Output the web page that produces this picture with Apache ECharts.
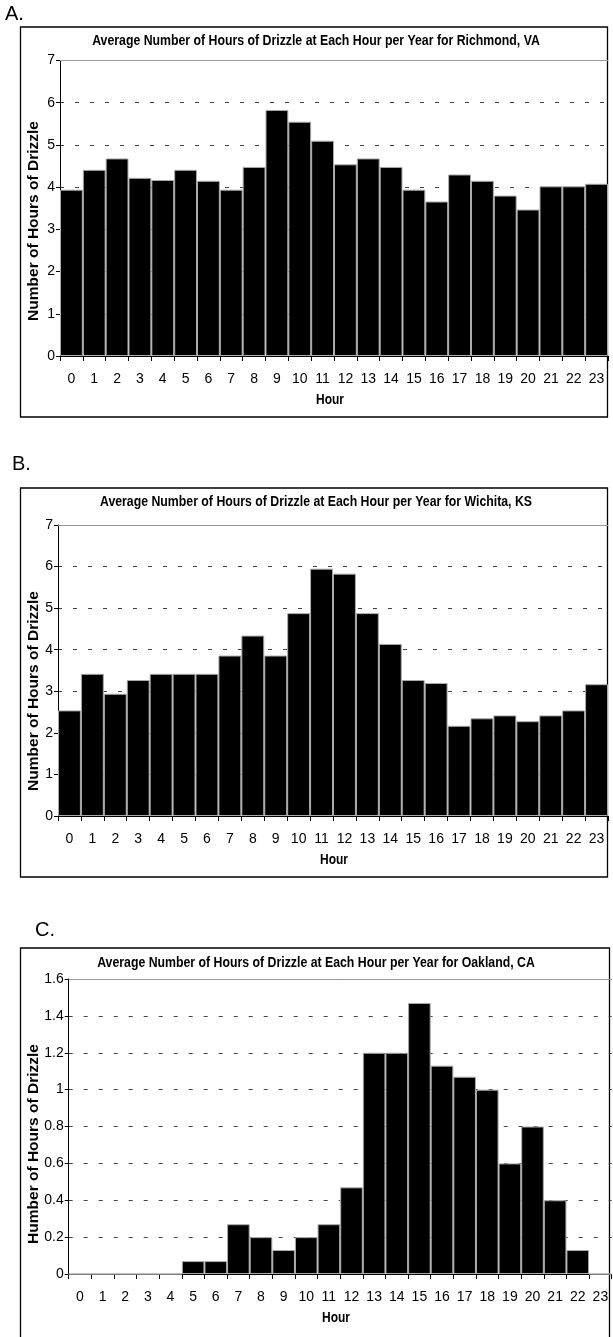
<!DOCTYPE html>
<html>
<head>
<meta charset="utf-8">
<script src="https://cdn.jsdelivr.net/npm/echarts@6/dist/echarts.min.js"></script>
<style>
  html, body { margin: 0; padding: 0; background: #fff; }
  #chart { width: 613px; height: 1337px; }
</style>
</head>
<body>
<div id="chart"></div>
<script>
// hours of the day (category axis)
const hours = ['0', '1', '2', '3', '4', '5', '6', '7', '8', '9', '10', '11',
  '12', '13', '14', '15', '16', '17', '18', '19', '20', '21', '22', '23'];

// average hours of drizzle per year at each hour
const richmond = [3.94, 4.41, 4.68, 4.22, 4.17, 4.41, 4.15, 3.94, 4.48, 5.83, 5.55, 5.10,
  4.54, 4.68, 4.48, 3.94, 3.66, 4.30, 4.15, 3.80, 3.47, 4.02, 4.02, 4.08];
const wichita = [2.54, 3.42, 2.94, 3.27, 3.42, 3.42, 3.42, 3.86, 4.34, 3.86, 4.88, 5.95,
  5.83, 4.88, 4.14, 3.27, 3.20, 2.17, 2.35, 2.42, 2.28, 2.42, 2.54, 3.17];
const oakland = [0, 0, 0, 0, 0, 0.07, 0.07, 0.27, 0.20, 0.13, 0.20, 0.27,
  0.47, 1.20, 1.20, 1.47, 1.13, 1.07, 1.00, 0.60, 0.80, 0.40, 0.13, 0];

const titles = [
  'Average Number of Hours of Drizzle at Each Hour per Year for Richmond, VA',
  'Average Number of Hours of Drizzle at Each Hour per Year for Wichita, KS',
  'Average Number of Hours of Drizzle at Each Hour per Year for Oakland, CA'
];
const yNames = ['Number of Hours of Drizzle', 'Number of Hours of Drizzle', 'Humber of Hours of Drizzle'];
const panelLetters = ['A.', 'B.', 'C.'];
const yMax = [7, 7, 1.6];
const yStep = [1, 1, 0.2];

const chart = echarts.init(document.getElementById('chart'));

const grids = [
  { left: 60, top: 60.5, width: 548, height: 295.5 },
  { left: 58, top: 525, width: 550, height: 291 },
  { left: 68.7, top: 979, width: 543, height: 295 }
];
const boxes = [
  { x: 20.5, y: 27, w: 587, h: 390 },
  { x: 20.5, y: 488, w: 587, h: 389 },
  { x: 20.5, y: 948, w: 589, h: 400 }
];
const letterPos = [[5, 4], [12, 454], [35, 920]];
const titleY = [41, 502, 963];
const yNamePos = [[34, 221], [34, 691], [34, 1144]];
const hourPos = [[330, 400], [334, 860], [336, 1318]];

const font = 'Liberation Sans, Arial, sans-serif';
const xAxes = [];
const yAxes = [];
const series = [];
const graphic = [];
const data = [richmond, wichita, oakland];

for (let i = 0; i < 3; i++) {
  xAxes.push({
    type: 'category',
    gridIndex: i,
    data: hours,
    axisLine: { lineStyle: { color: '#000', width: 1 } },
    axisTick: { show: true, length: 5, lineStyle: { color: '#000' } },
    axisLabel: { color: '#000', fontSize: 14, fontFamily: font, margin: 16, interval: 0 },
    splitLine: { show: false }
  });
  // solid grey line along the top of the plot
  xAxes.push({
    type: 'category',
    gridIndex: i,
    position: 'top',
    data: hours,
    axisLine: { lineStyle: { color: '#999', width: 1 } },
    axisTick: { show: false },
    axisLabel: { show: false }
  });
  yAxes.push({
    type: 'value',
    gridIndex: i,
    min: 0,
    max: yMax[i],
    interval: yStep[i],
    axisLine: { show: true, lineStyle: { color: '#000', width: 1 } },
    axisTick: { show: true, length: 4, lineStyle: { color: '#000' } },
    axisLabel: { color: '#000', fontSize: 14, fontFamily: font, margin: 5 },
    splitLine: { show: true, lineStyle: { color: '#444', type: [4, 11], width: 1 } }
  });
  series.push({
    type: 'bar',
    xAxisIndex: i * 2,
    yAxisIndex: i,
    data: data[i],
    barCategoryGap: 0,
    itemStyle: { color: '#000', borderColor: '#aaa', borderWidth: 1 },
    silent: true
  });

  graphic.push({
    type: 'rect',
    shape: { x: boxes[i].x, y: boxes[i].y, width: boxes[i].w, height: boxes[i].h },
    style: { fill: 'none', stroke: '#000', lineWidth: 1.3 },
    silent: true
  });
  graphic.push({
    type: 'text',
    x: letterPos[i][0],
    y: letterPos[i][1],
    style: { text: panelLetters[i], font: '20px ' + font, fill: '#000', align: 'left', verticalAlign: 'top' }
  });
  graphic.push({
    type: 'text',
    x: 316,
    y: titleY[i],
    scaleX: 0.82,
    style: { text: titles[i], font: 'bold 15px ' + font, fill: '#000', align: 'center', verticalAlign: 'middle' }
  });
  graphic.push({
    type: 'text',
    x: yNamePos[i][0],
    y: yNamePos[i][1],
    rotation: Math.PI / 2,
    style: { text: yNames[i], font: 'bold 15.5px ' + font, fill: '#000', align: 'center', verticalAlign: 'middle' }
  });
  graphic.push({
    type: 'text',
    x: hourPos[i][0],
    y: hourPos[i][1],
    scaleX: 0.8,
    style: { text: 'Hour', font: 'bold 15px ' + font, fill: '#000', align: 'center', verticalAlign: 'middle' }
  });
}

chart.setOption({
  animation: false,
  backgroundColor: '#fff',
  grid: grids,
  xAxis: xAxes,
  yAxis: yAxes,
  series: series,
  graphic: graphic
});
</script>
</body>
</html>
